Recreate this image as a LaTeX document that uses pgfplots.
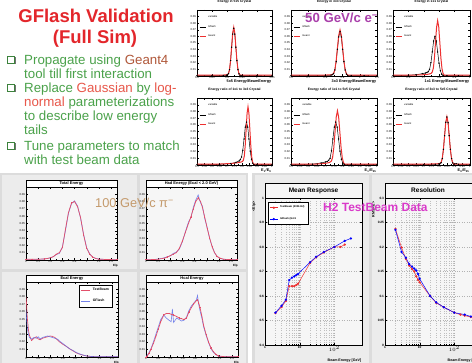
\documentclass[border=0pt]{standalone}
\usepackage{fontspec}
\setmainfont{Liberation Sans}
\usepackage{pgfplots}
\pgfplotsset{compat=1.18}
\definecolor{ttlred}{HTML}{E3262B}
\definecolor{bgreen}{HTML}{4BA24B}
\definecolor{brownc}{HTML}{B0583A}
\definecolor{salmon}{HTML}{E8574A}
\definecolor{purp}{HTML}{A93FAA}
\definecolor{tanc}{HTML}{C49A6C}
\definecolor{magen}{HTML}{D93AC9}
\definecolor{rred}{HTML}{EE3030}
\definecolor{tbred}{HTML}{E2506A}
\definecolor{gfblue}{HTML}{5E6EE8}
\definecolor{canv}{HTML}{DCDCDC}
\definecolor{padc}{HTML}{ECECEC}
\definecolor{frm}{HTML}{F6F6F6}
\pgfplotsset{
  rootax/.style={scale only axis, anchor=north west,
    axis line style={line width=0.35pt},
    every tick/.append style={black, line width=0.25pt},
    major tick length=1.6pt, minor tick length=0.9pt,
    tick label style={font=\fontsize{2.8}{3}\selectfont, inner sep=0.8pt},
    /pgf/number format/assume math mode=true,
    title style={font=\fontsize{3.3}{3.6}\selectfont\bfseries, inner sep=1pt},
    xlabel style={font=\fontsize{3.8}{4.2}\selectfont\bfseries, at={(axis description cs:1,0)}, anchor=north east, yshift=-3.2pt, inner sep=0.5pt},
  },
  gtop/.style={rootax, xmin=0, xmax=1, ymin=0, ymax=1,
    xtick={0,0.2,0.4,0.6,0.8,1}, minor x tick num=1, ytick={0.1,0.2,...,0.9},
    yticklabels={0.01,0.02,0.03,0.04,0.05,0.06,0.07,0.08,0.09},
    legend style={draw=none, fill=none, at={(0.02,0.95)}, anchor=north west,
      font=\fontsize{2.6}{3}\selectfont, row sep=1.8pt, inner sep=0.5pt},
    legend cell align=left,
    legend image code/.code={\draw[##1] (0pt,0pt) -- (6pt,0pt);},
  },
  blk/.style={black, line width=0.5pt, mark=*, mark size=0.4pt},
  red/.style={rred, line width=1pt},
  botl/.style={rootax, xmin=0, xmax=1.5, ymin=0, ymax=1,
    xtick={0,0.2,...,1.4}, minor x tick num=1, ytick={0.1,0.2,...,0.9}, minor y tick num=1,
    axis background/.style={fill=frm},
    xlabel style={font=\fontsize{3}{3.4}\selectfont\bfseries, yshift=-0.6pt, xshift=1.5pt}},
  tb/.style={tbred, line width=0.7pt, mark=+, mark size=0.6pt},
  gf/.style={gfblue, line width=0.6pt, opacity=0.85},
}
\begin{document}
\begin{tikzpicture}
\useasboundingbox (0,0) rectangle (472pt,363pt);
\clip (0,0) rectangle (472pt,363pt);
\fill[white] (0,0) rectangle (472pt,363pt);
% ---------- text block ----------
\node[text=ttlred, font=\fontsize{18.5}{20}\selectfont\bfseries, anchor=base] at (96pt,340pt) {GFlash Validation};
\node[text=ttlred, font=\fontsize{18.5}{20}\selectfont\bfseries, anchor=base] at (95pt,319pt) {(Full Sim)};
\foreach \yy in {302.5,274.5,216.5}{
  \fill[black!55] (8.8pt,\yy pt-3.8pt) rectangle (15.8pt,\yy pt+3.2pt);
  \draw[bgreen!80!black, fill=white, line width=0.7pt] (7.5pt,\yy pt-3pt) rectangle (14.5pt,\yy pt+4pt);
}
\begin{scope}[every node/.style={anchor=base west, text=bgreen, font=\fontsize{13.3}{14}\selectfont, inner sep=0pt}]
\node at (24pt,298pt) {Propagate using \textcolor{brownc}{Geant4}};
\node at (24pt,284pt) {tool till first interaction};
\node at (24pt,270pt) {Replace \textcolor{salmon}{Gaussian} by \textcolor{salmon}{log-}};
\node at (24pt,256pt) {\textcolor{salmon}{normal} parameterizations};
\node at (24pt,242pt) {to describe low energy};
\node at (24pt,228pt) {tails};
\node at (24pt,212pt) {Tune parameters to match};
\node at (24pt,198pt) {with test beam data};
\end{scope}
% ---------- canvases ----------
\fill[canv] (0pt,0pt) rectangle (248pt,190pt);
\fill[padc] (2pt,94pt) rectangle (137pt,188pt);
\fill[padc] (140pt,94pt) rectangle (246pt,188pt);
\fill[padc] (2pt,0pt) rectangle (137pt,91pt);
\fill[padc] (140pt,0pt) rectangle (246pt,91pt);
\fill[canv] (252pt,0pt) rectangle (472pt,190pt);
\fill[padc] (255pt,0pt) rectangle (369pt,188pt);
\fill[padc] (372pt,0pt) rectangle (472pt,188pt);
% ---------- top grid ----------
\begin{axis}[gtop, at={(197pt,353pt)}, width=75pt, height=66pt, title={Energy in 5x5 Crystal},
  xlabel={5x5 Energy/BeamEnergy}, xticklabels={0.8,0.85,0.9,0.95,1,1.05}, legend entries={variable,Gflash,Geant}]
\addlegendimage{empty legend}
\addplot[blk] coordinates {(0,0.004) (0.2,0.005) (0.35,0.008) (0.392,0.012) (0.406,0.018) (0.42,0.035) (0.434,0.097) (0.448,0.234) (0.462,0.437) (0.476,0.635) (0.49,0.72) (0.504,0.635) (0.518,0.437) (0.532,0.234) (0.546,0.097) (0.56,0.032) (0.574,0.01) (0.6,0.006) (0.8,0.004) (1,0.003)};
\addplot[red] coordinates {(0,0.012) (0.2,0.012) (0.35,0.014) (0.392,0.018) (0.406,0.022) (0.42,0.038) (0.434,0.1) (0.448,0.24) (0.462,0.45) (0.476,0.655) (0.49,0.74) (0.504,0.65) (0.518,0.44) (0.532,0.235) (0.546,0.1) (0.56,0.035) (0.574,0.015) (0.6,0.012) (0.8,0.012) (1,0.012)};
\end{axis}
\begin{axis}[gtop, at={(291pt,353pt)}, width=86pt, height=66pt, title={Energy in 3x3 Crystal},
  xlabel={3x3 Energy/BeamEnergy}, xticklabels={0.6,0.7,0.8,0.9,1,1.1}, legend entries={variable,Gflash,Geant}]
\addlegendimage{empty legend}
\addplot[blk] coordinates {(0,0.004) (0.2,0.005) (0.4,0.008) (0.465,0.012) (0.48,0.02) (0.495,0.035) (0.51,0.091) (0.525,0.218) (0.54,0.406) (0.555,0.591) (0.57,0.67) (0.585,0.591) (0.6,0.406) (0.615,0.218) (0.63,0.091) (0.645,0.029) (0.66,0.009) (0.7,0.005) (0.85,0.004) (1,0.003)};
\addplot[red] coordinates {(0,0.012) (0.2,0.012) (0.4,0.014) (0.465,0.018) (0.48,0.024) (0.495,0.038) (0.51,0.095) (0.525,0.227) (0.54,0.425) (0.555,0.618) (0.57,0.70) (0.585,0.618) (0.6,0.425) (0.615,0.227) (0.63,0.095) (0.645,0.031) (0.66,0.014) (0.7,0.012) (0.85,0.012) (1,0.012)};
\end{axis}
\begin{axis}[gtop, at={(393pt,353pt)}, width=77pt, height=66pt, title={Energy in 1x1 Crystal},
  xlabel={1x1 Energy/BeamEnergy}, xticklabels={0.5,0.6,0.7,0.8,0.9,1}, legend entries={variable,Gflash,Geant}]
\addlegendimage{empty legend}
\addplot[blk] coordinates {(0,0.005) (0.2,0.01) (0.3,0.02) (0.38,0.035) (0.42,0.045) (0.44,0.052) (0.4575,0.065) (0.475,0.1) (0.4925,0.2) (0.51,0.364) (0.5275,0.53) (0.545,0.60) (0.5625,0.53) (0.58,0.364) (0.5975,0.195) (0.615,0.081) (0.6325,0.026) (0.65,0.008) (0.7,0.005) (0.85,0.004) (1,0.003)};
\addplot[red] coordinates {(0,0.012) (0.2,0.013) (0.35,0.016) (0.43,0.022) (0.47,0.03) (0.496,0.04) (0.51,0.06) (0.524,0.12) (0.538,0.273) (0.552,0.51) (0.566,0.741) (0.58,0.84) (0.594,0.741) (0.608,0.51) (0.622,0.273) (0.636,0.114) (0.65,0.037) (0.664,0.015) (0.7,0.012) (0.85,0.012) (1,0.012)};
\end{axis}
\begin{axis}[gtop, at={(197pt,265pt)}, width=75pt, height=67pt, title={Energy ratio of 1x1 to 3x3 Crystal},
  xlabel={E\textsubscript{1}/E\textsubscript{9}}, xtick={0,0.1,...,1}, xticklabels={0.5,0.55,0.6,0.65,0.7,0.75,0.8,0.85,0.9,0.95,1}, legend entries={variable,Gflash,Geant}]
\addlegendimage{empty legend}
\addplot[blk] coordinates {(0,0.006) (0.3,0.01) (0.45,0.02) (0.52,0.04) (0.561,0.06) (0.5775,0.08) (0.594,0.12) (0.6105,0.22) (0.627,0.388) (0.6435,0.565) (0.66,0.64) (0.6765,0.565) (0.693,0.388) (0.7095,0.208) (0.726,0.087) (0.7425,0.028) (0.759,0.008) (0.8,0.005) (1,0.004)};
\addplot[red] coordinates {(0,0.012) (0.3,0.014) (0.45,0.022) (0.55,0.035) (0.59,0.045) (0.605,0.05) (0.6175,0.07) (0.63,0.13) (0.6425,0.282) (0.655,0.528) (0.6675,0.768) (0.68,0.87) (0.6925,0.768) (0.705,0.528) (0.7175,0.282) (0.73,0.118) (0.7425,0.038) (0.755,0.015) (0.8,0.012) (1,0.012)};
\end{axis}
\begin{axis}[gtop, at={(291pt,265pt)}, width=86pt, height=67pt, title={Energy ratio of 1x1 to 5x5 Crystal},
  xlabel={E\textsubscript{1}/E\textsubscript{25}}, xtick={0,0.1,...,1}, xticklabels={0.5,0.55,0.6,0.65,0.7,0.75,0.8,0.85,0.9,0.95,1}, legend entries={variable,Gflash,Geant}]
\addlegendimage{empty legend}
\addplot[blk] coordinates {(0,0.006) (0.25,0.012) (0.35,0.03) (0.4,0.045) (0.421,0.052) (0.4375,0.07) (0.454,0.1) (0.4705,0.21) (0.487,0.388) (0.5035,0.565) (0.52,0.64) (0.5365,0.565) (0.553,0.388) (0.5695,0.208) (0.586,0.087) (0.6025,0.028) (0.619,0.008) (0.7,0.005) (1,0.004)};
\addplot[red] coordinates {(0,0.012) (0.3,0.014) (0.4,0.025) (0.44,0.035) (0.456,0.045) (0.47,0.06) (0.484,0.115) (0.498,0.263) (0.512,0.491) (0.526,0.715) (0.54,0.81) (0.554,0.715) (0.568,0.491) (0.582,0.263) (0.596,0.11) (0.61,0.036) (0.624,0.014) (0.7,0.012) (1,0.012)};
\end{axis}
\begin{axis}[gtop, at={(393pt,265pt)}, width=77pt, height=67pt, title={Energy ratio of 3x3 to 5x5 Crystal},
  xlabel={E\textsubscript{9}/E\textsubscript{25}}, xtick={0,0.1,...,1}, xticklabels={0.5,0.55,0.6,0.65,0.7,0.75,0.8,0.85,0.9,0.95,1}, legend entries={variable,Gflash,Geant}]
\addlegendimage{empty legend}
\addplot[blk] coordinates {(0,0.005) (0.4,0.006) (0.55,0.01) (0.595,0.015) (0.61,0.02) (0.625,0.035) (0.64,0.097) (0.655,0.234) (0.67,0.437) (0.685,0.635) (0.70,0.715) (0.715,0.63) (0.73,0.437) (0.745,0.234) (0.76,0.097) (0.775,0.032) (0.79,0.012) (0.82,0.02) (0.85,0.01) (1,0.004)};
\addplot[red] coordinates {(0,0.012) (0.4,0.013) (0.55,0.016) (0.595,0.02) (0.61,0.025) (0.625,0.038) (0.64,0.1) (0.655,0.234) (0.67,0.437) (0.685,0.635) (0.70,0.72) (0.715,0.635) (0.73,0.437) (0.745,0.234) (0.76,0.097) (0.775,0.032) (0.79,0.014) (0.83,0.012) (1,0.012)};
\end{axis}
% ---------- bottom-left pion plots ----------
\begin{axis}[botl, at={(26pt,176pt)}, width=91pt, height=73pt, xlabel={E/p},
  yticklabels={0.01,0.02,0.03,0.04,0.05,0.06,0.07,0.08,0.09}]
\addplot[gf] coordinates {(0,0.008) (0.1,0.008) (0.2,0.01) (0.3,0.014) (0.35,0.02) (0.4,0.03) (0.45,0.045) (0.5,0.075) (0.55,0.09) (0.6,0.18) (0.65,0.40) (0.7,0.64) (0.75,0.77) (0.8,0.81) (0.85,0.74) (0.9,0.57) (0.95,0.35) (1.0,0.17) (1.05,0.085) (1.1,0.04) (1.15,0.022) (1.2,0.012) (1.3,0.008) (1.4,0.006) (1.5,0.005)};
\addplot[tb] coordinates {(0,0.01) (0.1,0.01) (0.2,0.01) (0.3,0.015) (0.35,0.02) (0.4,0.03) (0.45,0.045) (0.5,0.08) (0.55,0.1) (0.6,0.17) (0.65,0.42) (0.7,0.65) (0.75,0.78) (0.8,0.80) (0.85,0.73) (0.9,0.58) (0.95,0.34) (1.0,0.16) (1.05,0.08) (1.1,0.04) (1.15,0.02) (1.2,0.012) (1.3,0.008) (1.4,0.005) (1.5,0.005)};
\end{axis}
\begin{axis}[botl, at={(146pt,176pt)}, width=91pt, height=73pt, xlabel={E/p},
  yticklabels={0.01,0.02,0.03,0.04,0.05,0.06,0.07,0.08,0.09}]
\addplot[gf] coordinates {(0,0.005) (0.1,0.006) (0.2,0.012) (0.3,0.03) (0.35,0.045) (0.4,0.055) (0.45,0.09) (0.5,0.11) (0.55,0.15) (0.6,0.25) (0.65,0.39) (0.7,0.52) (0.74,0.58) (0.78,0.72) (0.82,0.82) (0.86,0.89) (0.9,0.78) (0.93,0.74) (0.97,0.56) (1.01,0.44) (1.05,0.29) (1.09,0.19) (1.13,0.1) (1.17,0.05) (1.22,0.02) (1.28,0.01) (1.4,0.005) (1.5,0.004)};
\addplot[tb] coordinates {(0,0.005) (0.1,0.005) (0.2,0.01) (0.3,0.025) (0.35,0.04) (0.4,0.06) (0.45,0.08) (0.5,0.10) (0.55,0.16) (0.6,0.26) (0.65,0.38) (0.7,0.5) (0.74,0.59) (0.78,0.70) (0.82,0.80) (0.86,0.85) (0.9,0.80) (0.93,0.72) (0.97,0.58) (1.01,0.43) (1.05,0.3) (1.09,0.18) (1.13,0.1) (1.17,0.05) (1.22,0.025) (1.28,0.01) (1.4,0.005) (1.5,0.004)};
\end{axis}
\begin{axis}[botl, at={(26pt,81pt)}, width=92pt, height=75pt, xlabel={E/p},
  yticklabels={0.01,0.02,0.03,0.04,0.05,0.06,0.07,0.08,0.09},
  legend entries={TestBeam,GFlash}, legend cell align=left,
  legend style={at={(0.94,0.96)}, anchor=north east, draw=black, fill=white, line width=0.3pt,
    font=\fontsize{3.4}{4}\selectfont\bfseries, row sep=3pt, inner sep=1.5pt},
  legend image code/.code={\draw[#1] (0pt,0pt) -- (9pt,0pt);}]
\addplot[tb, mark=none] coordinates {(0,0.80) (0.01,0.70) (0.02,0.53) (0.04,0.36) (0.055,0.29) (0.09,0.22) (0.13,0.25) (0.17,0.27) (0.2,0.24) (0.23,0.23) (0.27,0.25) (0.31,0.26) (0.35,0.27) (0.39,0.28) (0.43,0.275) (0.47,0.26) (0.51,0.23) (0.55,0.2) (0.6,0.17) (0.66,0.14) (0.71,0.11) (0.77,0.08) (0.82,0.055) (0.88,0.036) (0.94,0.022) (0.99,0.013) (1.05,0.008) (1.1,0.005) (1.2,0.004) (1.3,0.003) (1.5,0.003)};
\addplot[gf] coordinates {(0,0.62) (0.01,0.5) (0.02,0.4) (0.04,0.3) (0.055,0.26) (0.09,0.24) (0.13,0.26) (0.17,0.25) (0.2,0.27) (0.23,0.24) (0.27,0.26) (0.31,0.27) (0.35,0.28) (0.39,0.27) (0.43,0.26) (0.47,0.25) (0.51,0.24) (0.55,0.21) (0.6,0.18) (0.66,0.14) (0.71,0.11) (0.77,0.085) (0.82,0.06) (0.88,0.04) (0.94,0.024) (0.99,0.014) (1.05,0.008) (1.1,0.005) (1.2,0.004) (1.3,0.003) (1.5,0.003)};
\end{axis}
\begin{axis}[botl, at={(146pt,81pt)}, width=92pt, height=75pt, xlabel={E/p},
  yticklabels={0.01,0.02,0.03,0.04,0.05,0.06,0.07,0.08,0.09}]
\addplot[gf] coordinates {(0,0) (0.016,0.02) (0.05,0.06) (0.08,0.11) (0.12,0.2) (0.16,0.3) (0.2,0.4) (0.24,0.5) (0.29,0.56) (0.33,0.52) (0.375,0.49) (0.41,0.47) (0.43,0.64) (0.45,0.46) (0.5,0.52) (0.54,0.5) (0.58,0.48) (0.62,0.49) (0.66,0.53) (0.7,0.62) (0.74,0.68) (0.78,0.72) (0.82,0.76) (0.84,0.82) (0.86,0.7) (0.88,0.62) (0.91,0.52) (0.94,0.4) (0.98,0.29) (1.02,0.19) (1.06,0.11) (1.1,0.06) (1.14,0.03) (1.18,0.012) (1.26,0.004) (1.5,0.003)};
\addplot[tb] coordinates {(0,0.0) (0.016,0.01) (0.05,0.05) (0.08,0.1) (0.12,0.18) (0.16,0.27) (0.2,0.37) (0.24,0.47) (0.29,0.56) (0.33,0.58) (0.375,0.58) (0.41,0.57) (0.45,0.56) (0.5,0.54) (0.54,0.52) (0.58,0.51) (0.62,0.5) (0.66,0.52) (0.7,0.6) (0.74,0.66) (0.78,0.71) (0.82,0.75) (0.84,0.76) (0.86,0.72) (0.88,0.66) (0.91,0.55) (0.94,0.42) (0.98,0.3) (1.02,0.2) (1.06,0.12) (1.1,0.07) (1.14,0.035) (1.18,0.015) (1.26,0.005) (1.5,0.003)};
\end{axis}
% title boxes bottom-left
\begin{scope}[every node/.style={font=\fontsize{4}{4.5}\selectfont\bfseries, inner sep=0pt}]
\draw[fill=white, line width=0.35pt] (26pt,176pt) rectangle (117pt,183pt); \node at (71.5pt,179.5pt) {Total Energy};
\draw[fill=white, line width=0.35pt] (146pt,176pt) rectangle (237pt,183pt); \node at (191.5pt,179.5pt) {Had Energy (Ecal < 2.0 GeV)};
\draw[fill=white, line width=0.35pt] (26pt,81pt) rectangle (118pt,88pt); \node at (72pt,84.5pt) {Ecal Energy};
\draw[fill=white, line width=0.35pt] (146pt,81pt) rectangle (238pt,88pt); \node at (192pt,84.5pt) {Hcal Energy};
\end{scope}
% ---------- right: mean response & resolution ----------
\begin{axis}[rootax, at={(265pt,165pt)}, width=97pt, height=147pt, xmode=log, xmin=1, xmax=630,
  ymin=0.4, ymax=1, xtick={1,10,100}, xticklabels={1,10,$10^2$},
  ytick={0.4,0.5,...,1}, yticklabels={0.4,0.5,0.6,0.7,0.8,0.9,1},
  grid=both, major grid style={gray!60, dotted, line width=0.35pt}, minor grid style={gray!50, dotted, line width=0.3pt},
  tick label style={font=\fontsize{3.2}{3.5}\selectfont\bfseries},
  axis background/.style={fill=frm},
  xlabel={Beam Energy [GeV]}, xlabel style={font=\fontsize{3.6}{4}\selectfont\bfseries, at={(axis description cs:1,-0.065)}, anchor=north east, yshift=0pt},
  ylabel={<E/p>}, ylabel style={font=\fontsize{3.6}{4}\selectfont\bfseries, at={(axis description cs:-0.06,1)}, anchor=south east},
  legend entries={TestBeam (2006 H2),GFlash (G4.9, 2007)}, legend cell align=left,
  legend style={at={(0.03,0.97)}, anchor=north west, draw=black, fill=white, line width=0.3pt,
    font=\fontsize{2.6}{3}\selectfont\bfseries, row sep=4pt, inner sep=1.5pt},
  legend image code/.code={\draw[#1, mark repeat=2, mark phase=2] plot coordinates {(0pt,0pt) (4pt,0pt) (8pt,0pt)};}]
\addplot[rred, line width=0.5pt, mark=*, mark size=0.9pt] coordinates {(2,0.53) (3,0.555) (4,0.58) (5,0.64) (6,0.64) (7,0.64) (8,0.645) (9,0.65) (20,0.735) (30,0.758) (50,0.778) (100,0.80) (150,0.80) (200,0.81)};
\addplot[blue, line width=0.5pt, mark=*, mark size=0.9pt] coordinates {(2,0.532) (3,0.56) (4,0.585) (5,0.665) (6,0.675) (7,0.68) (8,0.685) (9,0.69) (20,0.738) (30,0.76) (50,0.78) (100,0.80) (200,0.825) (300,0.835)};
\end{axis}
\begin{axis}[rootax, at={(385pt,165pt)}, width=97pt, height=147pt, xmode=log, xmin=1, xmax=630,
  ymin=0, ymax=0.3, xtick={1,10,100}, xticklabels={1,10,$10^2$},
  ytick={0,0.05,...,0.3}, yticklabels={0,0.05,0.1,0.15,0.2,0.25,0.3},
  grid=both, major grid style={gray!60, dotted, line width=0.35pt}, minor grid style={gray!50, dotted, line width=0.3pt},
  tick label style={font=\fontsize{3.2}{3.5}\selectfont\bfseries},
  axis background/.style={fill=frm},
  xlabel={Beam Energy [GeV]}, xlabel style={font=\fontsize{3.6}{4}\selectfont\bfseries, at={(axis description cs:1,-0.065)}, anchor=north east, yshift=0pt},
  ylabel={RMS/<E>}, ylabel style={font=\fontsize{3.6}{4}\selectfont\bfseries, at={(axis description cs:-0.07,1)}, anchor=south east}]
\addplot[rred, line width=0.5pt, mark=*, mark size=0.9pt] coordinates {(2,0.237) (3,0.199) (4,0.176) (5,0.162) (6,0.155) (7,0.150) (8,0.140) (9,0.133) (10,0.128) (20,0.10) (30,0.086) (50,0.077) (100,0.066) (150,0.062) (200,0.060) (300,0.057)};
\addplot[blue, line width=0.5pt, mark=*, mark size=0.9pt] coordinates {(2,0.235) (3,0.19) (4,0.178) (5,0.165) (6,0.160) (7,0.156) (8,0.152) (9,0.145) (10,0.135) (20,0.10) (30,0.087) (50,0.077) (100,0.066) (200,0.062) (300,0.058)};
\end{axis}
\begin{scope}[every node/.style={font=\fontsize{6.5}{7}\selectfont\bfseries, inner sep=0pt}]
\draw[fill=frm, line width=0.4pt] (265pt,165pt) rectangle (362pt,180pt); \node at (313.5pt,172.5pt) {Mean Response};
\draw[fill=frm, line width=0.4pt] (385pt,165pt) rectangle (482pt,180pt); \node at (428pt,172.5pt) {Resolution};
\end{scope}
% ---------- annotations ----------
\node[anchor=base west, inner sep=0pt, text=purp, font=\fontsize{13.2}{14}\selectfont\bfseries] at (305pt,340pt) {50 GeV/c e\textsuperscript{−}};
\node[anchor=base west, inner sep=0pt, text=tanc, font=\fontsize{12.8}{14}\selectfont] at (95pt,155pt) {100 GeV/c π\textsuperscript{−}};
\node[anchor=base west, inner sep=0pt, text=magen, font=\fontsize{12}{13}\selectfont\bfseries] at (323pt,151pt) {H2 TestBeam Data};
\end{tikzpicture}
\end{document}
